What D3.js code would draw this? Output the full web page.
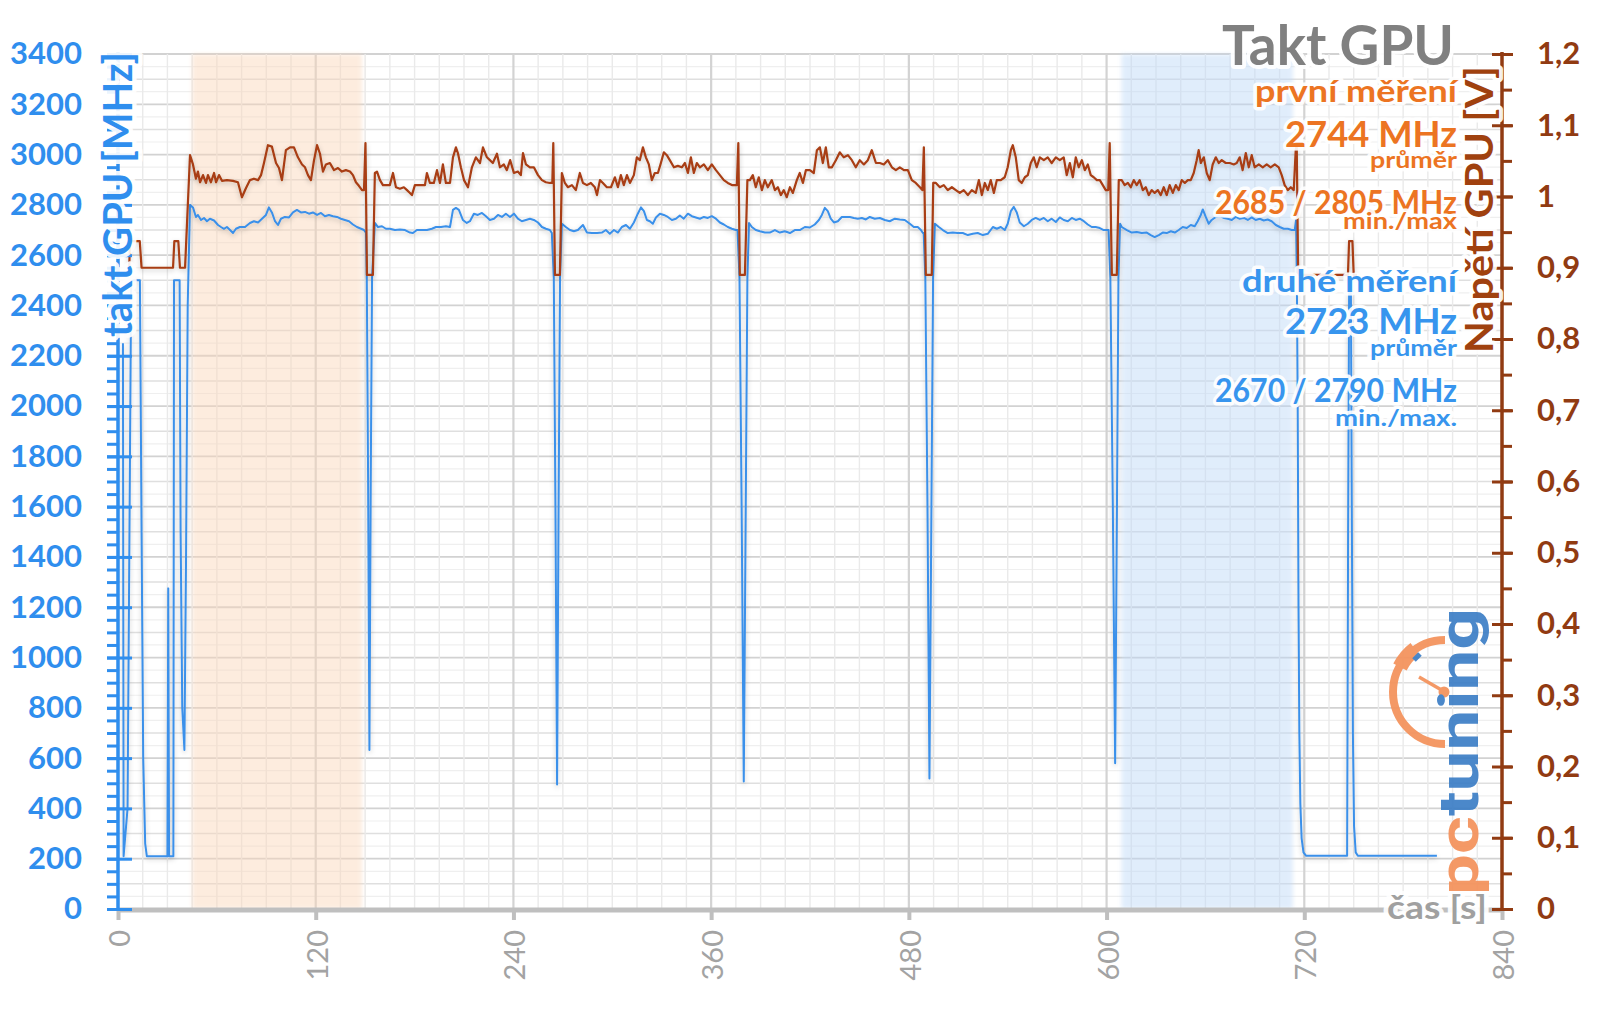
<!DOCTYPE html>
<html><head><meta charset="utf-8">
<script src="https://cdn.jsdelivr.net/npm/d3@7"></script>
<style>
html,body{margin:0;padding:0;background:#fff;}
svg{display:block;font-family:Lato,"Open Sans",sans-serif;}
.glow{paint-order:stroke;stroke:#fff;stroke-linejoin:round;stroke-opacity:0.92;}
</style></head><body>
<svg id="chart" width="1600" height="1009"></svg>
<script>
// ---------- data ----------
const xTickValues = [0,120,240,360,480,600,720,840];
const leftTickValues = [0,200,400,600,800,1000,1200,1400,1600,1800,2000,2200,2400,2600,2800,3000,3200,3400];
const leftTickLabels = ["0","200","400","600","800","1000","1200","1400","1600","1800","2000","2200","2400","2600","2800","3000","3200","3400"];
const rightTickValues = [0,0.1,0.2,0.3,0.4,0.5,0.6,0.7,0.8,0.9,1.0,1.1,1.2];
const rightTickLabels = ["0","0,1","0,2","0,3","0,4","0,5","0,6","0,7","0,8","0,9","1","1,1","1,2"];
const bandFirst = [45,148];   // seconds (první měření window)
const bandSecond = [609,713]; // seconds (druhé měření window)

// GPU voltage [V] vs time [s]
const voltSeries = [
[6.8,0.900],[7.3,0.9375],[13.2,0.9375],[14.3,0.900],[33.4,0.900],[34.2,0.9375],[36.6,0.9375],[37.6,0.900],[40.7,0.900],[43.7,1.058],
[45.5,1.045],[47.3,1.025],[48.5,1.035],[49.8,1.020],[51.6,1.030],[53.4,1.019],[54.6,1.030],[56.4,1.020],[58.3,1.033],[59.5,1.020],[61.3,1.030],[63.1,1.022],[66.1,1.023],[69.8,1.022],[72.8,1.020],[75.2,0.999],[77.7,1.012],[80.1,1.023],[82.5,1.025],[85.0,1.023],[86.8,1.030],[88.6,1.047],[91.0,1.072],[93.4,1.070],[95.9,1.047],[97.7,1.040],[99.5,1.023],[101.9,1.065],[104.4,1.069],[106.8,1.069],[109.2,1.055],[111.7,1.045],[113.5,1.041],[115.3,1.030],[117.1,1.023],[118.9,1.050],[120.8,1.072],[122.6,1.060],[124.4,1.035],[126.2,1.045],[128.6,1.047],[131.1,1.037],[133.5,1.040],[135.9,1.035],[138.3,1.037],[140.8,1.035],[142.6,1.030],[144.4,1.020],[146.2,1.015],[148.1,1.009],[149.3,1.009],[150.2,1.075],[151.1,0.890],[154.7,0.890],[155.9,1.033],
[157.2,1.035],[159.0,1.023],[160.8,1.016],[163.2,1.016],[165.0,1.016],[166.9,1.033],[168.7,1.013],[171.1,1.011],[173.5,1.013],[175.4,1.009],[177.2,1.005],[178.4,1.002],[180.2,1.016],[183.3,1.016],[186.3,1.016],[187.5,1.033],[189.3,1.019],[191.7,1.019],[193.6,1.037],[195.4,1.019],[197.2,1.045],[199.0,1.019],[201.5,1.019],[203.3,1.055],[205.1,1.069],[206.3,1.061],[208.1,1.041],[210.0,1.023],[212.4,1.013],[214.8,1.041],[217.2,1.055],[219.7,1.047],[221.5,1.069],[223.9,1.055],[225.7,1.051],[227.5,1.047],[230.0,1.060],[231.8,1.041],[234.2,1.045],[236.0,1.037],[238.0,1.051],[240.3,1.033],[242.7,1.035],[244.5,1.030],[245.8,1.061],[247.6,1.045],[250.0,1.041],[252.4,1.041],[254.9,1.030],[257.3,1.023],[259.7,1.020],[262.1,1.019],[263.6,1.019],[264.2,1.075],[265.2,0.890],[268.2,0.890],[269.4,1.033],
[271.2,1.019],[273.1,1.013],[275.5,1.016],[277.9,1.009],[280.3,1.033],[282.2,1.019],[284.6,1.016],[287.0,1.019],[289.4,1.013],[290.7,1.002],[292.5,1.023],[294.3,1.019],[296.7,1.013],[299.2,1.013],[301.6,1.027],[303.4,1.013],[305.2,1.030],[307.0,1.016],[308.9,1.030],[310.7,1.019],[313.1,1.030],[314.9,1.055],[316.7,1.051],[318.6,1.069],[320.4,1.055],[322.2,1.045],[324.0,1.023],[325.8,1.033],[327.7,1.033],[329.5,1.047],[331.3,1.062],[333.1,1.058],[334.9,1.051],[337.4,1.041],[339.8,1.043],[342.2,1.041],[344.1,1.047],[345.9,1.033],[347.7,1.055],[349.5,1.033],[351.3,1.047],[353.2,1.041],[355.6,1.045],[358.0,1.037],[360.4,1.045],[362.9,1.037],[365.3,1.030],[367.7,1.023],[370.1,1.019],[372.6,1.016],[375.6,1.016],[376.5,1.075],[377.4,0.890],[380.5,0.890],[382.0,1.023],
[383.5,1.023],[385.3,1.030],[387.1,1.013],[388.9,1.027],[390.8,1.009],[392.6,1.023],[394.4,1.013],[396.8,1.023],[398.7,1.009],[400.5,1.013],[402.3,1.002],[404.1,1.009],[405.9,0.999],[407.8,1.013],[409.6,1.005],[412.0,1.023],[413.8,1.033],[415.7,1.019],[417.5,1.037],[419.9,1.037],[422.3,1.033],[424.2,1.065],[426.0,1.069],[427.8,1.047],[429.6,1.069],[431.4,1.041],[433.3,1.041],[435.7,1.051],[438.1,1.062],[440.5,1.055],[443.0,1.058],[445.4,1.051],[447.8,1.041],[450.2,1.051],[452.7,1.045],[455.1,1.051],[457.5,1.065],[460.0,1.047],[462.4,1.047],[464.8,1.045],[467.2,1.051],[469.7,1.041],[472.1,1.037],[474.5,1.041],[477.0,1.037],[479.4,1.037],[481.8,1.023],[484.2,1.019],[486.7,1.013],[488.2,1.009],[489.1,1.069],[490.3,0.890],[493.9,0.890],[494.8,1.019],
[496.4,1.019],[498.8,1.013],[501.2,1.016],[503.6,1.009],[506.1,1.013],[508.5,1.009],[510.9,1.005],[513.3,1.009],[515.8,1.002],[518.2,1.009],[520.6,1.005],[522.5,1.023],[524.3,1.002],[526.1,1.019],[527.9,1.009],[529.7,1.023],[531.6,1.005],[533.4,1.023],[535.8,1.023],[538.2,1.027],[540.0,1.041],[541.9,1.065],[543.1,1.072],[544.9,1.055],[546.7,1.023],[548.5,1.019],[550.4,1.027],[552.2,1.030],[554.0,1.047],[555.8,1.055],[557.6,1.041],[559.5,1.055],[561.9,1.051],[564.3,1.055],[566.7,1.047],[569.2,1.055],[571.6,1.051],[574.0,1.055],[575.8,1.030],[577.7,1.047],[579.5,1.027],[581.3,1.055],[583.1,1.041],[585.0,1.051],[586.8,1.037],[588.6,1.045],[590.4,1.030],[592.2,1.027],[594.1,1.023],[595.9,1.023],[597.7,1.016],[599.5,1.009],[601.0,1.009],[601.9,1.075],[603.2,0.890],[606.2,0.890],[607.4,1.023],
[609.2,1.023],[611.0,1.016],[612.9,1.019],[614.7,1.013],[616.5,1.023],[618.3,1.016],[620.1,1.023],[622.0,1.009],[623.8,1.013],[625.6,1.002],[627.4,1.009],[629.2,1.005],[631.1,1.009],[632.9,1.002],[634.7,1.013],[636.5,1.002],[638.3,1.016],[640.2,1.005],[642.0,1.016],[643.8,1.009],[645.6,1.023],[647.5,1.019],[649.3,1.023],[651.1,1.023],[652.9,1.033],[654.7,1.051],[655.9,1.065],[657.2,1.047],[659.0,1.055],[660.8,1.033],[662.6,1.023],[664.4,1.045],[666.3,1.055],[668.1,1.047],[669.9,1.051],[672.3,1.047],[674.8,1.047],[677.2,1.045],[679.0,1.047],[680.8,1.055],[682.6,1.037],[684.5,1.061],[686.3,1.041],[688.1,1.058],[689.9,1.041],[692.4,1.045],[694.8,1.041],[697.2,1.045],[699.6,1.041],[702.1,1.045],[704.5,1.041],[706.3,1.030],[708.1,1.016],[710.0,1.009],[711.8,1.013],[713.6,1.009],[714.8,1.065],[715.4,1.072],[716.3,0.890],[746.5,0.890],[747.2,0.9375],[749.2,0.9375],[750.0,0.890],[752.0,0.890]
];

// GPU clock [MHz] vs time [s]
const clockSeries = [
[3.0,2250],[3.4,210],[5.8,400],[8.0,2500],[13.3,2500],[14.3,1500],[15.3,600],[16.5,260],[17.5,210],[30.0,210],[30.5,1275],[31.0,210],[33.6,210],[34.0,2500],[37.4,2500],[38.0,1500],[39.0,800],[40.3,632],[41.3,1400],[42.3,2400],[43.7,2800],
[45.5,2790],[47.3,2752],[48.5,2760],[50.4,2740],[52.2,2748],[54.0,2735],[55.8,2745],[58.3,2738],[60.7,2720],[62.5,2712],[64.3,2705],[66.1,2712],[68.0,2700],[69.8,2688],[71.6,2705],[74.0,2712],[77.1,2712],[80.1,2728],[82.5,2735],[85.0,2730],[87.4,2745],[89.8,2760],[91.6,2790],[93.4,2770],[95.3,2735],[97.1,2720],[98.9,2745],[101.3,2752],[103.8,2750],[106.2,2770],[108.6,2780],[111.0,2770],[113.5,2772],[115.9,2765],[118.3,2770],[120.8,2760],[123.2,2768],[125.6,2755],[128.0,2760],[130.5,2755],[132.9,2752],[135.3,2745],[137.7,2740],[140.2,2735],[142.6,2722],[145.0,2712],[147.5,2705],[149.3,2700],[150.5,2690],[151.0,2510],[151.8,1700],[152.6,632],[153.4,1700],[154.2,2510],[155.9,2728],
[157.8,2712],[160.2,2715],[162.6,2705],[165.0,2705],[168.1,2700],[171.1,2702],[174.2,2700],[177.2,2690],[179.0,2688],[181.4,2700],[184.5,2700],[187.5,2700],[190.5,2705],[193.0,2712],[196.0,2712],[199.0,2715],[201.5,2712],[203.3,2780],[205.1,2788],[206.9,2780],[209.3,2740],[211.7,2728],[213.6,2735],[216.0,2765],[218.4,2760],[220.9,2768],[223.3,2755],[225.7,2740],[228.2,2745],[230.6,2760],[233.0,2752],[235.4,2765],[237.9,2752],[240.3,2765],[242.7,2745],[245.1,2735],[247.6,2740],[250.0,2745],[252.4,2740],[254.9,2730],[257.3,2712],[259.7,2705],[262.1,2700],[263.3,2688],[264.5,2510],[265.5,1600],[266.5,495],[267.4,1600],[268.3,2510],[269.4,2725],
[271.8,2712],[274.3,2700],[276.7,2695],[279.1,2700],[282.2,2720],[284.6,2690],[287.6,2688],[290.7,2688],[293.7,2690],[296.1,2700],[298.5,2685],[301.0,2700],[303.4,2690],[305.8,2712],[308.3,2720],[310.7,2705],[313.1,2730],[315.5,2765],[317.4,2790],[319.2,2775],[321.0,2740],[322.8,2735],[324.6,2725],[326.5,2750],[328.9,2765],[331.3,2760],[333.7,2752],[336.2,2740],[338.6,2745],[341.0,2758],[343.4,2745],[345.9,2765],[348.3,2755],[350.7,2750],[353.2,2745],[355.6,2752],[358.0,2748],[360.4,2755],[362.9,2745],[365.3,2730],[367.7,2722],[370.1,2712],[372.6,2705],[375.0,2700],[376.0,2700],[377.2,2510],[378.5,1600],[379.8,507],[381.0,1600],[382.0,2510],[383.0,2728],
[384.7,2712],[387.1,2700],[389.6,2695],[392.6,2690],[395.6,2690],[398.7,2700],[401.7,2690],[404.7,2695],[407.8,2688],[410.8,2700],[413.8,2700],[416.9,2712],[419.9,2710],[422.9,2722],[425.4,2740],[427.2,2760],[429.0,2788],[430.8,2775],[432.6,2745],[434.5,2730],[436.9,2735],[439.3,2752],[441.7,2752],[444.2,2752],[446.6,2748],[449.0,2745],[451.5,2748],[453.9,2742],[456.3,2752],[459.3,2745],[462.4,2748],[465.4,2740],[468.4,2735],[471.5,2745],[474.5,2742],[477.5,2740],[480.6,2725],[483.0,2712],[485.4,2712],[487.3,2700],[488.5,2688],[489.0,2688],[490.0,2510],[491.3,1600],[492.5,519],[493.7,1600],[494.7,2510],[495.8,2725],
[498.2,2712],[500.6,2700],[503.6,2688],[506.7,2690],[509.7,2688],[512.7,2688],[515.8,2680],[518.8,2685],[521.8,2688],[524.9,2680],[527.9,2685],[531.0,2712],[533.4,2705],[535.8,2712],[538.2,2700],[540.0,2725],[541.9,2775],[543.7,2792],[545.5,2770],[547.3,2730],[549.8,2715],[552.2,2725],[554.6,2740],[557.0,2748],[559.5,2740],[561.9,2748],[564.3,2735],[566.7,2745],[569.2,2732],[571.6,2750],[574.0,2740],[576.5,2735],[578.9,2748],[581.3,2740],[583.7,2745],[586.2,2735],[588.6,2722],[591.0,2712],[593.4,2712],[595.9,2708],[598.3,2700],[600.1,2700],[601.2,2700],[602.3,2510],[603.8,1600],[605.2,580],[606.3,1600],[607.2,2510],[608.2,2725],
[609.2,2712],[612.3,2700],[615.3,2690],[618.3,2692],[621.4,2688],[624.4,2690],[626.8,2680],[629.2,2672],[631.7,2680],[634.1,2690],[636.5,2688],[639.0,2695],[641.4,2690],[643.8,2700],[646.2,2712],[648.7,2708],[651.1,2720],[653.5,2715],[655.3,2735],[657.2,2760],[658.4,2782],[660.2,2752],[662.0,2725],[663.8,2740],[666.3,2752],[668.7,2755],[671.1,2748],[673.5,2745],[676.0,2740],[678.4,2752],[680.8,2745],[683.3,2748],[685.7,2740],[688.1,2750],[690.5,2740],[693.0,2745],[695.4,2738],[697.8,2742],[700.2,2735],[702.7,2720],[705.1,2712],[707.5,2705],[710.0,2705],[712.4,2700],[714.2,2700],[715.0,2740],[715.5,2500],[716.0,2000],[716.5,1200],[717.0,700],[717.6,420],[718.4,280],[719.5,225],[721.0,212],[746.0,212],[746.6,1500],[747.2,2450],[748.3,2450],[748.9,1500],[749.5,700],[750.2,330],[751.2,225],[752.5,212],[800.5,212]
];

const annotations = [
  {text:"první měření", size:31, len:202, base:102, color:"#EC7422"},
  {text:"2744 MHz", size:36, len:172, base:147, color:"#EC7422"},
  {text:"průměr", size:22, len:87, base:168, color:"#EC7422"},
  {text:"2685 / 2805 MHz", size:33, len:242, base:214, color:"#EC7422"},
  {text:"min./max", size:22, len:114, base:229, color:"#EC7422"},
  {text:"druhé měření", size:31, len:215, base:292, color:"#3795EE"},
  {text:"2723 MHz", size:36, len:172, base:334, color:"#3795EE"},
  {text:"průměr", size:22, len:87, base:356, color:"#3795EE"},
  {text:"2670 / 2790 MHz", size:33, len:242, base:402, color:"#3795EE"},
  {text:"min./max.", size:22, len:122, base:426, color:"#3795EE"}
];

// ---------- drawing ----------
const BLUE = "#2F8EEE", BLUE_LINE = "#3A90EA", BROWN_AX = "#913B12", BROWN_LINE = "#A83E12";
const svg = d3.select("#chart");
const x = d3.scaleLinear().domain([0,840]).range([118,1502]);
const yL = d3.scaleLinear().domain([0,3400]).range([909,54]);
const yR = d3.scaleLinear().domain([0,1.2]).range([909,54]);
const yTop = yL(3400), yBot = yL(0);

const defs = svg.append("defs");
const sh = defs.append("filter").attr("id","shadow").attr("x","-2%").attr("y","-5%").attr("width","104%").attr("height","115%");
sh.append("feDropShadow").attr("dx",0).attr("dy",2).attr("stdDeviation",2.5).attr("flood-color","#000").attr("flood-opacity",0.22);
const soft = defs.append("filter").attr("id","soft").attr("x","-10%").attr("y","-2%").attr("width","120%").attr("height","104%");
soft.append("feGaussianBlur").attr("stdDeviation",2);

// grid
const grid = svg.append("g");
d3.range(0,3401,50).forEach(v=>{
  const major = v%200===0, mid = v%100===0;
  grid.append("line").attr("x1",x(0)).attr("x2",x(840)).attr("y1",yL(v)).attr("y2",yL(v))
    .attr("stroke", major?"#d2d2d2":(mid?"#dfdfdf":"#efefef")).attr("stroke-width", major?1.8:(mid?1.5:1.2));
});
d3.range(0,841,15).forEach(t=>{
  const major = t%120===0;
  grid.append("line").attr("x1",x(t)).attr("x2",x(t)).attr("y1",yTop).attr("y2",yBot)
    .attr("stroke", major?"#d3d3d3":"#eaeaea").attr("stroke-width", major?2.2:1.4);
});

// bands
svg.append("rect").attr("x",x(bandFirst[0])).attr("width",x(bandFirst[1])-x(bandFirst[0]))
  .attr("y",yTop).attr("height",yBot-yTop).attr("fill","#FBD6B8").attr("opacity",0.45).attr("filter","url(#soft)");
svg.append("rect").attr("x",x(bandSecond[0])).attr("width",x(bandSecond[1])-x(bandSecond[0]))
  .attr("y",yTop).attr("height",yBot-yTop).attr("fill","#BCD8F8").attr("opacity",0.45).attr("filter","url(#soft)");

// lines
const lineL = d3.line().x(d=>x(d[0])).y(d=>yL(d[1]));
const lineR = d3.line().x(d=>x(d[0])).y(d=>yR(d[1]));
svg.append("path").datum(clockSeries).attr("d",lineL).attr("fill","none").attr("stroke",BLUE_LINE)
  .attr("stroke-width",2).attr("stroke-linejoin","round").attr("filter","url(#shadow)");
svg.append("path").datum(voltSeries).attr("d",lineR).attr("fill","none").attr("stroke",BROWN_LINE)
  .attr("stroke-width",2.2).attr("stroke-linejoin","round").attr("filter","url(#shadow)");

// x axis
const gx = svg.append("g").attr("transform",`translate(0,${yBot+1})`)
  .call(d3.axisBottom(x).tickValues(xTickValues).tickSize(10).tickFormat(""));
gx.select(".domain").attr("stroke","#BFBFBF").attr("stroke-width",5).attr("d",`M${x(0)},0H${x(840)}`);
gx.selectAll(".tick line").attr("stroke","#BFBFBF").attr("stroke-width",4);
xTickValues.forEach(t=>{
  svg.append("text").attr("transform",`translate(${x(t)+12},${yBot+21}) rotate(-90)`)
    .attr("text-anchor","end").attr("font-size",29).attr("fill","#A3A3A3").text(t);
});
svg.append("text").attr("class","glow").attr("x",1387).attr("y",919).attr("font-size",32).attr("font-weight",700)
  .attr("fill","#A0A0A0").attr("stroke-width",8).attr("textLength",100).attr("lengthAdjust","spacingAndGlyphs").text("čas [s]");

// left axis
const gl = svg.append("g").attr("transform",`translate(${x(0)},0)`);
gl.call(d3.axisLeft(yL).tickValues(d3.range(0,3401,50)).tickSize(11).tickFormat(""));
gl.append("g").call(d3.axisLeft(yL).tickValues(leftTickValues).tickSize(-14).tickFormat("")).select(".domain").remove();
gl.append("g").call(d3.axisLeft(yL).tickValues(leftTickValues).tickSize(11).tickPadding(25).tickFormat((d,i)=>leftTickLabels[i])).select(".domain").remove();
gl.selectAll(".domain").attr("stroke",BLUE).attr("stroke-width",3.5).attr("d",`M0,${yBot}V${yTop-2}`);
gl.selectAll(".tick line").attr("stroke",BLUE).attr("stroke-width",3);
gl.selectAll(".tick text").attr("fill",BLUE).attr("font-size",31).attr("font-weight",700).attr("font-family","Lato,sans-serif");

// right axis
const gr = svg.append("g").attr("transform",`translate(${x(840)},0)`);
gr.call(d3.axisRight(yR).tickValues(d3.range(0,1.201,0.05)).tickSize(10).tickFormat(""));
gr.append("g").call(d3.axisRight(yR).tickValues(rightTickValues).tickSize(-10).tickFormat("")).select(".domain").remove();
gr.append("g").call(d3.axisRight(yR).tickValues(rightTickValues).tickSize(11).tickPadding(24).tickFormat((d,i)=>rightTickLabels[i])).select(".domain").remove();
gr.selectAll(".domain").attr("stroke",BROWN_AX).attr("stroke-width",3.5).attr("d",`M0,${yBot}V${yTop-2}`);
gr.selectAll(".tick line").attr("stroke",BROWN_AX).attr("stroke-width",3);
gr.selectAll(".tick text").attr("fill",BROWN_AX).attr("font-size",31).attr("font-weight",700).attr("font-family","Lato,sans-serif");

// axis titles
svg.append("text").attr("class","glow").attr("transform","translate(132,337) rotate(-90)")
  .attr("x",0).attr("font-size",40).attr("font-weight",700).attr("fill",BLUE).attr("stroke-width",9)
  .attr("textLength",285).attr("lengthAdjust","spacingAndGlyphs").text("takt GPU [MHz]");
svg.append("text").attr("class","glow").attr("transform","translate(1493,353) rotate(-90)")
  .attr("x",0).attr("font-size",39).attr("font-weight",700).attr("fill","#A0410F").attr("stroke-width",8)
  .attr("textLength",287).attr("lengthAdjust","spacingAndGlyphs").text("Napětí GPU [V]");

// title and annotations
const RIGHT = 1457;
svg.append("text").attr("class","glow").attr("x",RIGHT-3-232).attr("y",65).attr("font-size",56).attr("font-weight",700)
  .attr("fill","#808080").attr("stroke-width",8).attr("textLength",232).attr("lengthAdjust","spacingAndGlyphs").text("Takt GPU");
annotations.forEach(a=>{
  svg.append("text").attr("class","glow").attr("x",RIGHT-a.len).attr("y",a.base)
    .attr("font-size",a.size).attr("font-weight",700).attr("fill",a.color).attr("stroke-width",7)
    .attr("textLength",a.len).attr("lengthAdjust","spacingAndGlyphs").text(a.text);
});

// logo
const logo = svg.append("g").attr("opacity",0.92);
logo.append("path").attr("d","M1445,640 A52,52 0 0 0 1445,744").attr("fill","none").attr("stroke","#F4915A").attr("stroke-width",8);
logo.append("path").attr("d","M1400,667 A52,52 0 0 1 1415,649").attr("fill","none").attr("stroke","#F4915A").attr("stroke-width",15);
logo.append("line").attr("x1",1414).attr("y1",660).attr("x2",1420).attr("y2",654).attr("stroke","#3C7EC6").attr("stroke-width",5);
logo.append("line").attr("x1",1445).attr("y1",692).attr("x2",1419).attr("y2",677).attr("stroke","#F4915A").attr("stroke-width",3.5);
logo.append("circle").attr("cx",1444).attr("cy",692).attr("r",5.5).attr("fill","#F4915A");
const lt = logo.append("text").attr("transform","translate(1478,895) rotate(-90)").attr("font-size",56)
  .attr("font-weight",700).attr("font-family","Roboto,sans-serif").attr("textLength",287).attr("lengthAdjust","spacingAndGlyphs");
lt.append("tspan").attr("fill","#F4915A").text("pc");
lt.append("tspan").attr("fill","#3C7EC6").text("tuning");
</script>
</body></html>
